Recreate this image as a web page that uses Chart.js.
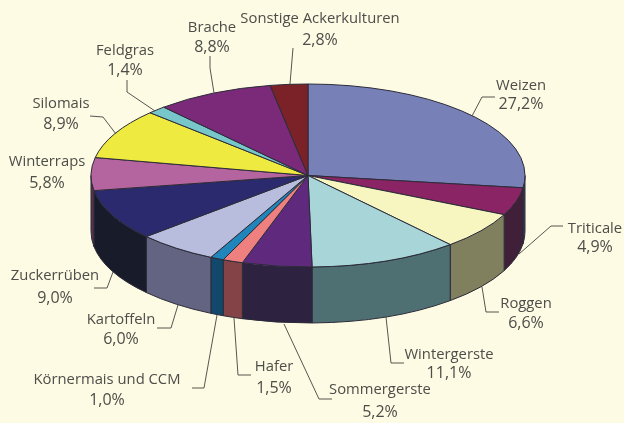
<!DOCTYPE html>
<html>
<head>
<meta charset="utf-8">
<style>html,body{margin:0;padding:0;background:#fdfbe3;overflow:hidden}canvas{display:block}</style>
<script src="https://cdn.jsdelivr.net/npm/chart.js@4/dist/chart.umd.min.js"></script>
</head>
<body>
<div style="width:624px;height:423px"><canvas id="c" width="624" height="423"></canvas></div>
<script>
const categories = ["Weizen","Triticale","Roggen","Wintergerste","Sommergerste","Hafer","Körnermais und CCM","Kartoffeln","Zuckerrüben","Winterraps","Silomais","Feldgras","Brache","Sonstige Ackerkulturen"];
const values = [27.2,4.9,6.6,11.1,5.2,1.5,1.0,6.0,9.0,5.8,8.9,1.4,8.8,2.8];
const topColors = ["#7880b8","#8a2464","#f8f6c0","#a8d5d8","#5f2a7e","#ef8080","#1f85bb","#b8bcdd","#2c2a6f","#b4649e","#efea3f","#77c6c9","#7a2a78","#7a2228"];
const sideColors = ["#3c4060","#3f2038","#80805e","#4e7072","#2d2240","#844347","#12486b","#626482","#181c2a","#5a3250","#78761f","#3b6365","#3d153c","#3d1114"];
const labelX = [521,595,526,449,380,274,107,121,55,47,61,125,212,320];
const labelY1 = [90,233,308,359,394,371,384,324,280,166,108,55,32,23];
const labelY2 = [109,252,328,378,417,393,405,344,303,188,129,75,52,45];
const leaders = [
 [[472,116],[482,97],[495,97]],
 [[519,254],[551,226],[563,226]],
 [[482,287],[486,312],[499,312]],
 [[386,317],[391,363],[404,363]],
 [[284,324],[319,399],[332,399]],
 [[234,318],[238,375],[251,375]],
 [[217,315],[204,388],[192,388]],
 [[178,305],[171,328],[157,328]],
 [[113,272],[107,288],[94,288]],
 [],
 [[116,134],[103,117],[90,116]],
 [[155,111],[127,92],[127,80]],
 [[214,93],[210,68],[210,56]],
 [[290,84],[293,48]]
];
const squash = 91.5/217, depth = 56, edge = "#2b2b38";

const pie3d = {
  id:"pie3d",
  beforeDatasetDraw(chart,args){
    const ctx = chart.ctx, arcs = args.meta.data;
    const cx = arcs[0].x, cy = arcs[0].y, r = arcs[0].outerRadius, ry = r*squash;
    ctx.lineWidth = 1; ctx.strokeStyle = edge; ctx.lineJoin = "round";
    // side wall: only the part of each slice facing the viewer
    arcs.forEach((a,i)=>{
      const s = Math.max(a.startAngle,0), e = Math.min(a.endAngle,Math.PI);
      if(e<=s) return;
      ctx.beginPath();
      ctx.ellipse(cx,cy,r,ry,0,s,e);
      ctx.ellipse(cx,cy+depth,r,ry,0,e,s,true);
      ctx.closePath();
      ctx.fillStyle = sideColors[i];
      ctx.fill(); ctx.stroke();
    });
    // top face
    arcs.forEach((a,i)=>{
      ctx.beginPath();
      ctx.moveTo(cx,cy);
      ctx.ellipse(cx,cy,r,ry,0,a.startAngle,a.endAngle);
      ctx.closePath();
      ctx.fillStyle = topColors[i];
      ctx.fill(); ctx.stroke();
    });
    return false;
  },
  afterDraw(chart){
    const ctx = chart.ctx;
    ctx.save();
    ctx.strokeStyle = "#55554f"; ctx.lineWidth = 1;
    leaders.forEach(l=>{
      if(!l.length) return;
      ctx.beginPath();
      l.forEach((p,i)=> i? ctx.lineTo(p[0],p[1]) : ctx.moveTo(p[0],p[1]));
      ctx.stroke();
    });
    ctx.fillStyle = "#4d4d4a"; ctx.textAlign = "center"; ctx.textBaseline = "alphabetic";
    categories.forEach((c,i)=>{
      ctx.font = '14.8px "Open Sans"';
      ctx.fillText(c,labelX[i],labelY1[i]);
      ctx.font = '16px "Open Sans"';
      ctx.fillText(values[i].toFixed(1).replace(".",",")+"%",labelX[i],labelY2[i]);
    });
    ctx.restore();
  }
};

new Chart(document.getElementById("c"),{
  type:"pie",
  data:{labels:categories,datasets:[{data:values,backgroundColor:topColors,borderWidth:0}]},
  options:{
    responsive:false,animation:false,radius:217,
    layout:{padding:{left:0,right:8,top:0,bottom:72}},
    plugins:{legend:{display:false},tooltip:{enabled:false},title:{display:false}},
    events:[]
  },
  plugins:[pie3d]
});
</script>
</body>
</html>
